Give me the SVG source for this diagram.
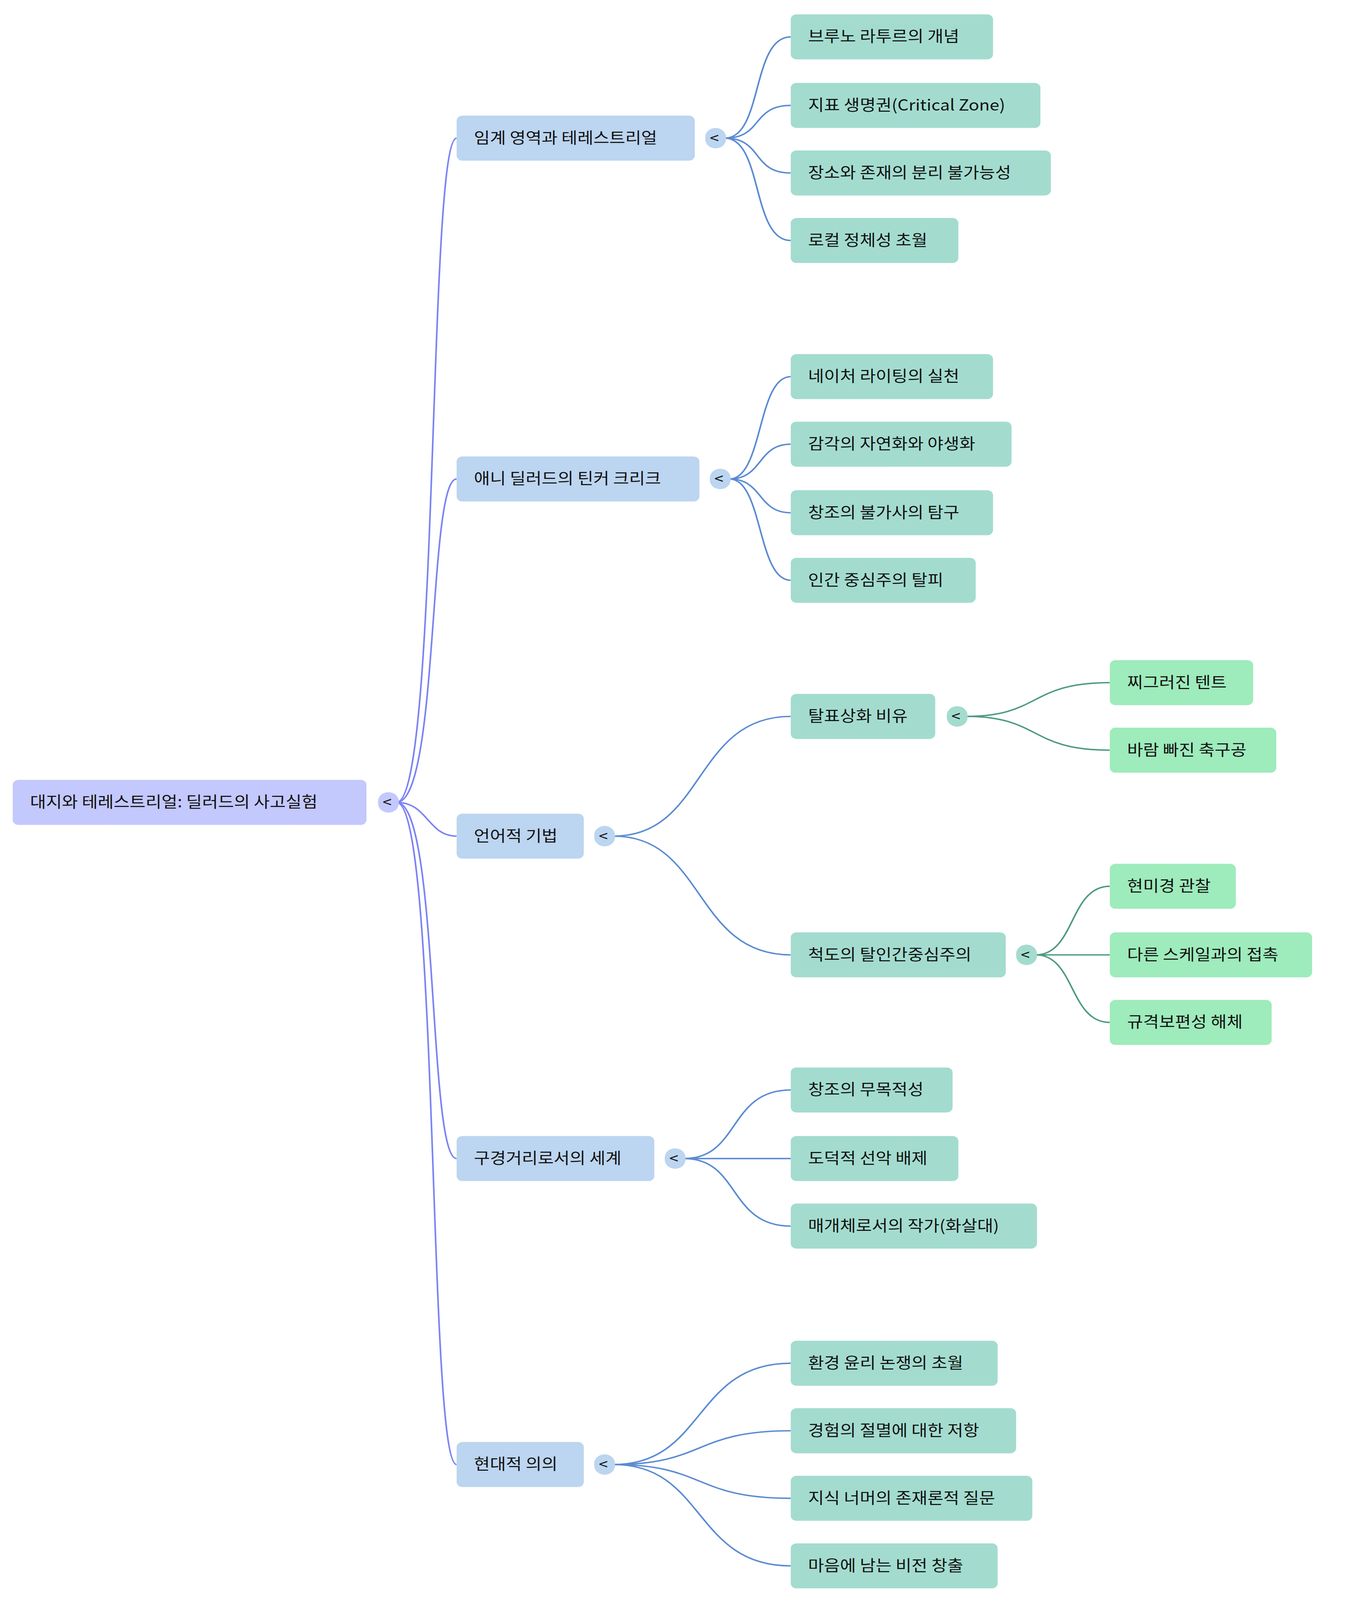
<svg xmlns="http://www.w3.org/2000/svg" width="3472" height="4636" viewBox="0 0 3472 4636">
<style>
text{font-family:"Noto Sans CJK KR","Noto Sans",sans-serif;font-size:15px;fill:#111}
.r rect{fill:#c3c8fd}.a rect{fill:#bcd5f0}.b rect{fill:#a3dccf}.c rect{fill:#9eebbc}
.e0{fill:none;stroke:#7b83f5;stroke-width:1.4}.e1{fill:none;stroke:#5b8bd3;stroke-width:1.4}.e2{fill:none;stroke:#4f9a80;stroke-width:1.4}
.t{font-size:14px}
</style>
<rect width="3472" height="4636" fill="#fff"/>
<g transform="scale(2.96,2.62)">
<g id="connectors">
<path class="e0" d="M343,784 C380,784 370,135 395,135"/>
<path class="e0" d="M343,784 C380,784 370,468 395,468"/>
<path class="e0" d="M343,784 C370,784 370,817 395,817"/>
<path class="e0" d="M343,784 C380,784 370,1132 395,1132"/>
<path class="e0" d="M343,784 C380,784 370,1431 395,1431"/>
<path class="e1" d="M627,135 C660,135 650,36 684,36"/><path class="e1" d="M627,135 C660,135 650,103 684,103"/><path class="e1" d="M627,135 C660,135 650,169 684,169"/><path class="e1" d="M627,135 C660,135 650,235 684,235"/>
<path class="e1" d="M631,468 C660,468 655,368 684,368"/><path class="e1" d="M631,468 C660,468 655,434 684,434"/><path class="e1" d="M631,468 C660,468 655,501 684,501"/><path class="e1" d="M631,468 C660,468 655,567 684,567"/>
<path class="e1" d="M531,817 C610,817 600,700 684,700"/><path class="e1" d="M531,817 C610,817 600,933 684,933"/>
<path class="e1" d="M592,1132 C640,1132 630,1065 684,1065"/><path class="e1" d="M592,1132 L684,1132"/><path class="e1" d="M592,1132 C640,1132 630,1198 684,1198"/>
<path class="e1" d="M531,1431 C610,1431 600,1332 684,1332"/><path class="e1" d="M531,1431 C610,1431 600,1398 684,1398"/><path class="e1" d="M531,1431 C610,1431 600,1464 684,1464"/><path class="e1" d="M531,1431 C610,1431 600,1530 684,1530"/>
<path class="e2" d="M836,700 C900,700 890,667 960,667"/><path class="e2" d="M836,700 C900,700 890,733 960,733"/>
<path class="e2" d="M896,933 C930,933 925,866 960,866"/><path class="e2" d="M896,933 L960,933"/><path class="e2" d="M896,933 C930,933 925,999 960,999"/>
</g>
<g id="root" class="r"><rect x="11" y="762" width="306" height="44" rx="5"/><text x="26" y="789">대지와 테레스트리얼: 딜러드의 사고실험</text><rect x="327" y="774" width="18" height="20" rx="9"/><text class="t" x="331" y="789">&lt;</text></g>
<g id="n1" class="a"><rect x="395" y="113" width="206" height="44" rx="5"/><text x="410" y="140">임계 영역과 테레스트리얼</text><rect x="610" y="125" width="18" height="20" rx="9"/><text class="t" x="614" y="140">&lt;</text></g>
<g id="n2" class="a"><rect x="395" y="446" width="210" height="44" rx="5"/><text x="410" y="473">애니 딜러드의 틴커 크리크</text><rect x="614" y="458" width="18" height="20" rx="9"/><text class="t" x="618" y="473">&lt;</text></g>
<g id="n3" class="a"><rect x="395" y="795" width="110" height="44" rx="5"/><text x="410" y="822">언어적 기법</text><rect x="514" y="807" width="18" height="20" rx="9"/><text class="t" x="518" y="822">&lt;</text></g>
<g id="n4" class="a"><rect x="395" y="1110" width="171" height="44" rx="5"/><text x="410" y="1137">구경거리로서의 세계</text><rect x="575" y="1122" width="18" height="20" rx="9"/><text class="t" x="579" y="1137">&lt;</text></g>
<g id="n5" class="a"><rect x="395" y="1409" width="110" height="44" rx="5"/><text x="410" y="1436">현대적 의의</text><rect x="514" y="1421" width="18" height="20" rx="9"/><text class="t" x="518" y="1436">&lt;</text></g>
<g id="n1a" class="b"><rect x="684" y="14" width="175" height="44" rx="5"/><text x="699" y="41">브루노 라투르의 개념</text></g>
<g id="n1b" class="b"><rect x="684" y="81" width="216" height="44" rx="5"/><text x="699" y="108">지표 생명권(Critical Zone)</text></g>
<g id="n1c" class="b"><rect x="684" y="147" width="225" height="44" rx="5"/><text x="699" y="174">장소와 존재의 분리 불가능성</text></g>
<g id="n1d" class="b"><rect x="684" y="213" width="145" height="44" rx="5"/><text x="699" y="240">로컬 정체성 초월</text></g>
<g id="n2a" class="b"><rect x="684" y="346" width="175" height="44" rx="5"/><text x="699" y="373">네이처 라이팅의 실천</text></g>
<g id="n2b" class="b"><rect x="684" y="412" width="191" height="44" rx="5"/><text x="699" y="439">감각의 자연화와 야생화</text></g>
<g id="n2c" class="b"><rect x="684" y="479" width="175" height="44" rx="5"/><text x="699" y="506">창조의 불가사의 탐구</text></g>
<g id="n2d" class="b"><rect x="684" y="545" width="160" height="44" rx="5"/><text x="699" y="572">인간 중심주의 탈피</text></g>
<g id="n3a" class="b"><rect x="684" y="678" width="125" height="44" rx="5"/><text x="699" y="705">탈표상화 비유</text><rect x="819" y="690" width="18" height="20" rx="9"/><text class="t" x="823" y="705">&lt;</text></g>
<g id="n3b" class="b"><rect x="684" y="911" width="186" height="44" rx="5"/><text x="699" y="938">척도의 탈인간중심주의</text><rect x="879" y="923" width="18" height="20" rx="9"/><text class="t" x="883" y="938">&lt;</text></g>
<g id="n3a1" class="c"><rect x="960" y="645" width="124" height="44" rx="5"/><text x="975" y="672">찌그러진 텐트</text></g>
<g id="n3a2" class="c"><rect x="960" y="711" width="144" height="44" rx="5"/><text x="975" y="738">바람 빠진 축구공</text></g>
<g id="n3b1" class="c"><rect x="960" y="844" width="109" height="44" rx="5"/><text x="975" y="871">현미경 관찰</text></g>
<g id="n3b2" class="c"><rect x="960" y="911" width="175" height="44" rx="5"/><text x="975" y="938">다른 스케일과의 접촉</text></g>
<g id="n3b3" class="c"><rect x="960" y="977" width="140" height="44" rx="5"/><text x="975" y="1004">규격보편성 해체</text></g>
<g id="n4a" class="b"><rect x="684" y="1043" width="140" height="44" rx="5"/><text x="699" y="1070">창조의 무목적성</text></g>
<g id="n4b" class="b"><rect x="684" y="1110" width="145" height="44" rx="5"/><text x="699" y="1137">도덕적 선악 배제</text></g>
<g id="n4c" class="b"><rect x="684" y="1176" width="213" height="44" rx="5"/><text x="699" y="1203">매개체로서의 작가(화살대)</text></g>
<g id="n5a" class="b"><rect x="684" y="1310" width="179" height="44" rx="5"/><text x="699" y="1337">환경 윤리 논쟁의 초월</text></g>
<g id="n5b" class="b"><rect x="684" y="1376" width="195" height="44" rx="5"/><text x="699" y="1403">경험의 절멸에 대한 저항</text></g>
<g id="n5c" class="b"><rect x="684" y="1442" width="209" height="44" rx="5"/><text x="699" y="1469">지식 너머의 존재론적 질문</text></g>
<g id="n5d" class="b"><rect x="684" y="1508" width="179" height="44" rx="5"/><text x="699" y="1535">마음에 남는 비전 창출</text></g>
</g>
</svg>
